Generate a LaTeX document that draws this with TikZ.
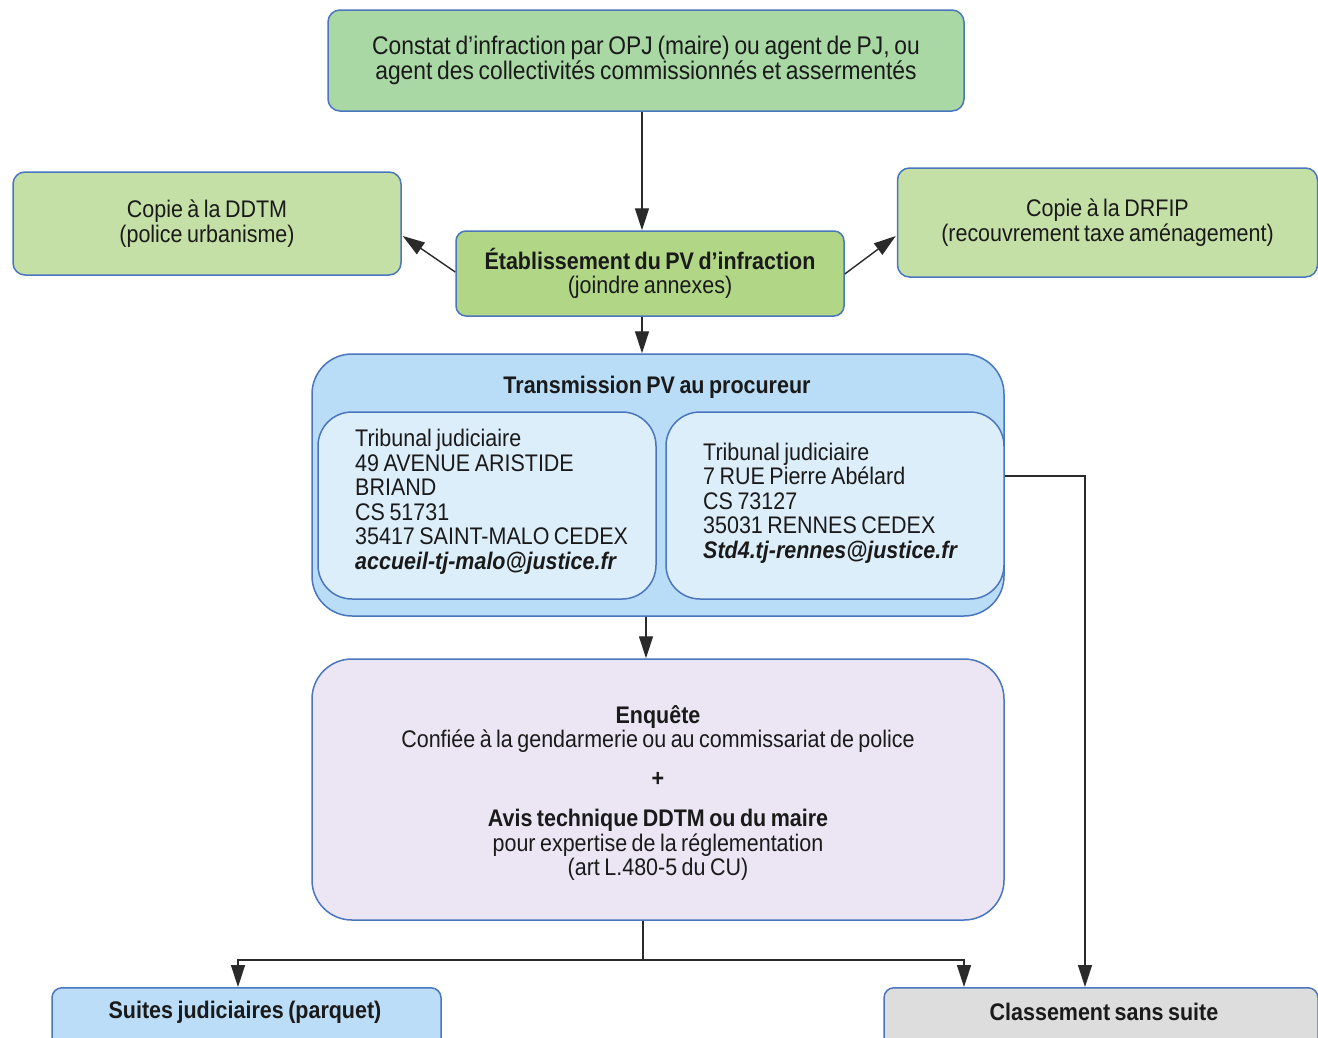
\documentclass[tikz,border=0pt]{standalone}
\usepackage{fontspec}
\setmainfont{Liberation Sans}[FakeStretch=0.895,WordSpace=0.75]
\usetikzlibrary{arrows.meta,calc}
\definecolor{bordc}{HTML}{4A76BE}
\definecolor{fconst}{HTML}{A9D8A5}
\definecolor{fcopy}{HTML}{C5E0A6}
\definecolor{fpv}{HTML}{B0D686}
\definecolor{ftrans}{HTML}{B9DCF7}
\definecolor{finner}{HTML}{DDEEFB}
\definecolor{fenq}{HTML}{ECE6F4}
\definecolor{fsuite}{HTML}{BCDDF7}
\definecolor{fclass}{HTML}{DDDDDD}
\definecolor{linec}{HTML}{2A2A2A}
\definecolor{txtc}{HTML}{1A1A1A}
\tikzset{
  boxbase/.style={draw=bordc, line width=1.5pt, rectangle, inner sep=0pt, text=txtc, align=center,
    font=\fontsize{24}{24.5}\selectfont},
  txtbase/.style={text=txtc, inner sep=0pt, font=\fontsize{24}{24.5}\selectfont},
  conn/.style={draw=linec, line width=1.4pt},
  arr/.style={conn, -{Triangle[length=22pt,width=14pt]}},
}
\begin{document}
\begin{tikzpicture}[x=1pt,y=-1pt]
\useasboundingbox (0,0) rectangle (1318,1037);
\clip (0,0) rectangle (1318,1037);
\fill[white] (0,0) rectangle (1318,1037);

% column / row helpers
\coordinate (xa) at (642,0);
\coordinate (xb) at (646,0);
\coordinate (xc) at (643,0);
\coordinate (xs) at (238,0);
\coordinate (xk) at (964,0);
\coordinate (xr) at (1085,0);
\coordinate (yh) at (0,960);
\coordinate (ylink) at (0,476);

% boxes
\node[boxbase, fill=fconst, rounded corners=12pt, minimum width=636pt, minimum height=101pt,
  font=\fontsize{25.5}{24}\selectfont] (constat) at (646,60.5)
  {Constat d'infraction par OPJ (maire) ou agent de PJ, ou\\agent des collectivités commissionnés et assermentés};

\node[boxbase, fill=fcopy, rounded corners=12pt, minimum width=388pt, minimum height=103pt] (ddtm) at (207,223.5)
  {Copie à la DDTM\\(police urbanisme)};

\node[boxbase, fill=fcopy, rounded corners=12pt, minimum width=420pt, minimum height=109pt] (drfip) at (1107.5,222.5)
  {Copie à la DRFIP\\(recouvrement taxe aménagement)};

\node[boxbase, fill=fpv, rounded corners=10pt, minimum width=388pt, minimum height=85pt] (pv) at (650,273.5)
  {\textbf{Établissement du PV d'infraction}\\(joindre annexes)};

\node[boxbase, fill=ftrans, rounded corners=40pt, minimum width=692pt, minimum height=262pt] (trans) at (658,485) {};
\node[txtbase, font=\fontsize{24}{24.5}\selectfont\bfseries] (transT) at (657,387) {Transmission PV au procureur};

\node[boxbase, fill=finner, rounded corners=34pt, minimum width=338pt, minimum height=187pt] (linner) at (487,505.5) {};
\node[txtbase, align=left, anchor=west] (ltext) at (355,502)
  {Tribunal judiciaire\\49 AVENUE ARISTIDE\\BRIAND\\CS 51731\\35417 SAINT-MALO CEDEX\\\textbf{\itshape accueil-tj-malo@justice.fr}};

\node[boxbase, fill=finner, rounded corners=34pt, minimum width=338pt, minimum height=187pt] (rinner) at (835,505.5) {};
\node[txtbase, align=left, anchor=west] (rtext) at (703,503)
  {Tribunal judiciaire\\7 RUE Pierre Abélard\\CS 73127\\35031 RENNES CEDEX\\\textbf{\itshape Std4.tj-rennes@justice.fr}};

\node[boxbase, fill=fenq, rounded corners=40pt, minimum width=692pt, minimum height=261pt] (enq) at (658,789.5) {};
\node[txtbase, align=center] (enqT) at (658,793)
  {\textbf{Enquête}\\Confiée à la gendarmerie ou au commissariat de police\\[14pt]\textbf{+}\\[16pt]\textbf{Avis technique DDTM ou du maire}\\pour expertise de la réglementation\\(art L.480-5 du CU)};

\node[boxbase, fill=fsuite, rounded corners=10pt, minimum width=389pt, minimum height=80pt, anchor=north] (suites) at (246.5,987) {};
\node[txtbase, font=\fontsize{24}{24.5}\selectfont\bfseries] (suitesT) at (245,1012) {Suites judiciaires (parquet)};

\node[boxbase, fill=fclass, rounded corners=10pt, minimum width=434pt, minimum height=80pt, anchor=north] (classe) at (1101,987) {};
\node[txtbase, font=\fontsize{24}{24.5}\selectfont\bfseries] (classeT) at (1104,1012) {Classement sans suite};

% connectors
\draw[arr] (constat.south -| xa) -- (pv.north -| xa);
\draw[arr] ($(pv.west)+(0,-1.5)$) -- ($(ddtm.east)+(1,12.5)$);
\draw[arr] ($(pv.east)+(0,0.5)$) -- ($(drfip.west)+(-1,13.5)$);
\draw[arr] (pv.south -| xa) -- (trans.north -| xa);
\draw[arr] (trans.south -| xb) -- (enq.north -| xb);
\draw[arr] (enq.south -| xc) -- (yh -| xc) -| (suites.north -| xs);
\draw[arr] (yh -| xc) -| (classe.north -| xk);
\draw[arr] (rinner.east |- ylink) -| (classe.north -| xr);
\end{tikzpicture}
\end{document}
